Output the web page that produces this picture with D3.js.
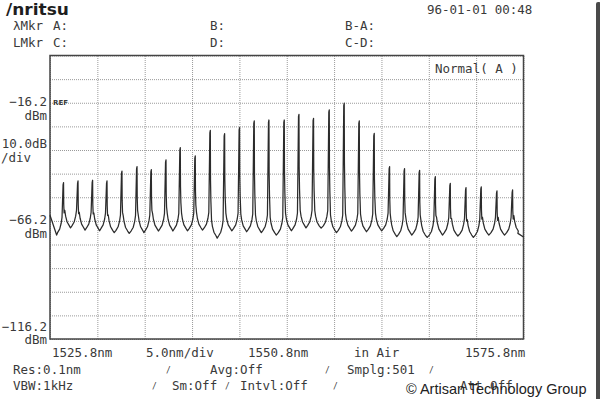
<!DOCTYPE html>
<html>
<head>
<meta charset="utf-8">
<title>Anritsu optical spectrum</title>
<script src="https://cdn.jsdelivr.net/npm/d3@7"></script>
<style>
	body { margin: 0; background: #fff; }
	svg text { font-family: "DejaVu Sans Mono", monospace; font-size: 12.5px; fill: #3a3a3a; }
</style>
</head>
<body>
<script>
// span / level settings of the screen
var spanNm = [1525.8, 1575.8];
var levelDbm = [-116.2, 3.8];
var xLabelNm = [1525.8, 1550.8, 1575.8];
var refDbm = [-16.2, -66.2, -116.2];

// longitudinal modes
var peakNm = [1527.20, 1528.73, 1530.27, 1531.79, 1533.37, 1534.96, 1536.47, 1538.02, 1539.53, 1541.11,
	1542.70, 1544.21, 1545.79, 1547.34, 1548.89, 1550.51, 1552.06, 1553.60, 1555.26, 1556.84,
	1558.43, 1560.01, 1561.63, 1563.21, 1564.80, 1566.46, 1568.04, 1569.70, 1571.31, 1572.97, 1574.62];
var peakDbm = [-51.0, -50.3, -50.0, -50.3, -46.1, -44.2, -45.5, -41.4, -36.2, -39.7,
	-28.9, -30.3, -27.7, -24.9, -24.5, -24.5, -22.1, -23.8, -20.2, -17.4,
	-24.9, -30.2, -44.2, -45.1, -45.8, -48.5, -51.3, -53.1, -52.8, -54.5, -54.1];
// noise floor between modes (before first, between each pair, after last)
var valleyDbm = [-72.2, -69.2, -70.1, -70.4, -71.2, -71.5, -71.2, -70.5, -70.5, -70.4, -70.1,
	-73.5, -70.4, -70.8, -71.2, -72.2, -70.4, -69.2, -69.3, -71.2, -70.5,
	-70.8, -70.4, -72.9, -72.2, -73.2, -72.2, -72.6, -73.2, -72.2, -72.2, -71.5];
var edgeDbm = [-63.8, -73.0];
// skirt of one mode: distance from centre (nm) and rise above floor (dB)
var skirtNm = [0.60, 0.38, 0.22, 0.13];
var skirtDb = [1.0, 2.5, 5.0, 7.5];

var width = 600, height = 399;
var plotL = 50, plotR = 523.5, plotT = 55.5, plotB = 339;

var svg = d3.select("body").append("svg")
	.attr("width", width)
	.attr("height", height);

var x = d3.scaleLinear().domain(spanNm).range([plotL, plotR]);
var y = d3.scaleLinear().domain(levelDbm).range([plotB, plotT]);

// grid, 10 x 12 divisions
var xGrid = d3.range(0, 11).map(function(i){ return spanNm[0] + i * 5; });
var yGrid = d3.range(0, 13).map(function(i){ return levelDbm[0] + i * 10; });

svg.append("g")
	.attr("transform", "translate(0," + plotB + ")")
	.call(d3.axisBottom(x).tickValues(xGrid).tickSize(-(plotB - plotT)).tickFormat(""))
	.call(function(g){ g.select(".domain").remove(); })
	.selectAll("line")
	.attr("stroke", "#9a9a9a")
	.attr("stroke-dasharray", "1,1");

svg.append("g")
	.attr("transform", "translate(" + plotL + ",0)")
	.call(d3.axisLeft(y).tickValues(yGrid).tickSize(-(plotR - plotL)).tickFormat(""))
	.call(function(g){ g.select(".domain").remove(); })
	.selectAll("line")
	.attr("stroke", "#9a9a9a")
	.attr("stroke-dasharray", "1,1");

svg.append("rect")
	.attr("x", plotL).attr("y", plotT)
	.attr("width", plotR - plotL).attr("height", plotB - plotT)
	.attr("fill", "none")
	.attr("stroke", "#444")
	.attr("stroke-width", 1.5);

// build the trace
var pts = [[spanNm[0], edgeDbm[0]]];
for (var i = 0; i < peakNm.length; i++){
	var c = peakNm[i];
	var prev = i == 0 ? spanNm[0] : peakNm[i - 1];
	var vL = valleyDbm[i], vR = valleyDbm[i + 1], pk = peakDbm[i];
	pts.push([(prev + c) / 2, vL]);
	for (var k = 0; k < skirtNm.length; k++){
		pts.push([c - skirtNm[k], vL + skirtDb[k]]);
	}
	// spike: up stroke and a slightly offset down stroke
	pts.push([c - 0.02, pk]);
	pts.push([c + 0.03, pk + 1]);
	pts.push([c + 0.05, vR + (pk - vR) * 0.55]);
	pts.push([c + 0.09, vR + (pk - vR) * 0.35]);
	for (var k = skirtNm.length - 1; k >= 0; k--){
		pts.push([c + skirtNm[k] + 0.03, vR + skirtDb[k]]);
	}
}
pts.push([(peakNm[peakNm.length - 1] + spanNm[1]) / 2, valleyDbm[valleyDbm.length - 1]]);
pts.push([spanNm[1], edgeDbm[1]]);

var line = d3.line()
	.x(function(d){ return x(d[0]); })
	.y(function(d){ return y(d[1]); });

svg.append("path")
	.datum(pts)
	.attr("d", line)
	.attr("fill", "none")
	.attr("stroke", "#2b2b2b")
	.attr("stroke-width", 1.25)
	.attr("stroke-linejoin", "round");

// header
svg.append("text")
	.attr("x", 6).attr("y", 15)
	.attr("textLength", 63).attr("lengthAdjust", "spacingAndGlyphs")
	.style("font-family", "'DejaVu Sans', sans-serif")
	.style("font-weight", "bold").style("font-size", "16px").style("fill", "#1e1e1e")
	.text("/nritsu");

function txt(s, tx, ty, anchor){
	return svg.append("text")
		.attr("x", tx).attr("y", ty)
		.attr("text-anchor", anchor || "start")
		.text(s);
}

txt("96-01-01 00:48", 427, 14);
txt("λMkr", 13, 30); txt("A:", 53, 30); txt("B:", 210, 30); txt("B-A:", 345, 30);
txt("LMkr", 13, 46.5); txt("C:", 53, 46.5); txt("D:", 210, 46.5); txt("C-D:", 345, 46.5);
txt("Normal( A )", 435, 73);

svg.append("text")
	.attr("x", 53).attr("y", y(refDbm[0]) + 2.5)
	.style("font-family", "'DejaVu Sans', sans-serif")
	.style("font-size", "7px").style("font-weight", "bold")
	.text("REF");

// level labels (the bottom one sits above its line)
refDbm.forEach(function(v, i){
	var dy = i == refDbm.length - 1 ? -8.5 : 3.5;
	txt(d3.format(".1f")(v), 47, y(v) + dy, "end");
	txt("dBm", 47, y(v) + dy + 13.5, "end");
});
txt("10.0dB", 47, 148, "end");
txt("/div", 1, 161.5);

// span labels
txt(xLabelNm[0].toFixed(1) + "nm", 52, 357);
txt("5.0nm/div", 146, 357);
txt(xLabelNm[1].toFixed(1) + "nm", 248, 357);
txt("in Air", 354, 357);
txt(xLabelNm[2].toFixed(1) + "nm", 465, 357);

txt("Res:0.1nm", 13, 374);
txt("Avg:Off", 210, 374);
txt("Smplg:501", 347, 374);
txt("VBW:1kHz", 13, 390);
txt("Sm:Off", 172, 390);
txt("Intvl:Off", 240, 390);
txt("Att Off", 460, 390);

[[166, 374], [325, 374], [429, 374], [152, 390], [225, 390], [333, 390]].forEach(function(p){
	txt("/", p[0], p[1] - 1).style("font-size", "8px");
});

// bezel edge on the right
svg.append("rect")
	.attr("x", 596).attr("y", 2)
	.attr("width", 5).attr("height", 400)
	.attr("rx", 2)
	.attr("fill", "#4a4a4a");

// watermark
svg.append("text")
	.attr("x", 406).attr("y", 394)
	.style("font-family", "'Liberation Sans', Arial, sans-serif")
	.style("font-size", "14.5px").style("fill", "#222")
	.text("© Artisan Technology Group");
</script>
</body>
</html>
